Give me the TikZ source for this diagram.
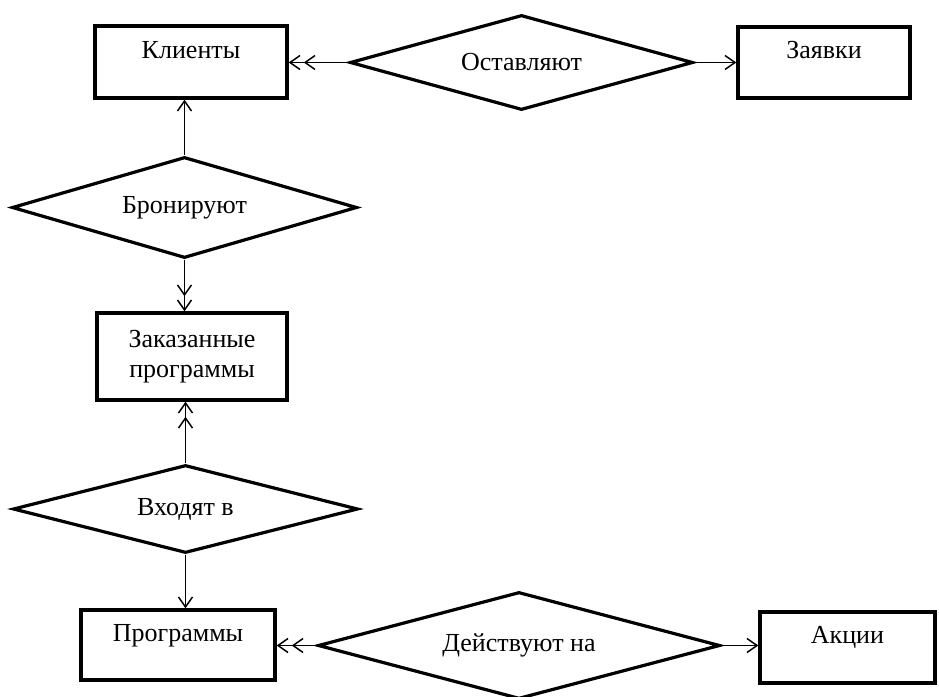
\documentclass[tikz,border=0pt]{standalone}
\usepackage{fontspec}
\setmainfont{Liberation Serif}
\usetikzlibrary{positioning,arrows.meta,shapes.geometric}
\tikzset{
  entity/.style={draw,line width=1.7pt,align=center,inner sep=2pt},
  toptext/.style={text height=10pt,text depth=14pt},
  rel/.style={draw,diamond,line width=1.6pt,aspect=4,inner sep=0pt},
  one/.style={-{Straight Barb[length=5pt,width=7pt]},line width=0.75pt},
  many/.style={-{Straight Barb[length=5pt,width=7pt,sep=1.5pt]Straight Barb[length=5pt,width=7pt]},line width=0.75pt}}

\begin{document}
\begin{tikzpicture}[x=1pt,y=1pt,font=\fontsize{13}{15}\selectfont]
  \useasboundingbox (0,0) rectangle (469.5,-348.5);
  \node[entity,toptext,minimum width=96pt,minimum height=36pt] (kl) at (95.5,-31) {Клиенты};
  \node[rel,minimum width=171.5pt,minimum height=47.5pt] (ost) at (260.75,-31.25) {Оставляют};
  \node[entity,toptext,minimum width=86pt,minimum height=35.5pt] (zay) at (412,-31.25) {Заявки};
  \node[rel,minimum width=172.5pt,minimum height=50.5pt] (bron) at (92.25,-103.75) {Бронируют};
  \node[entity,minimum width=95pt,minimum height=43.5pt] (zak) at (96,-178.25) {Заказанные\\программы};
  \node[rel,minimum width=172.5pt,minimum height=44pt] (vkh) at (92.75,-254.5) {Входят в};
  \node[entity,toptext,minimum width=97pt,minimum height=35pt] (prog) at (89,-322.5) {Программы};
  \node[rel,minimum width=201pt,minimum height=53.5pt] (deyst) at (259.5,-322.75) {Действуют на};
  \node[entity,toptext,minimum width=87.5pt,minimum height=35.5pt] (akc) at (423.75,-323.75) {Акции};
  \draw[many] (ost.west) -- (ost.west -| kl.east);
  \draw[one] (ost.east) -- (ost.east -| zay.west);
  \draw[one] (bron.north) -- (bron.north |- kl.south);
  \draw[many] (bron.south) -- (bron.south |- zak.north);
  \draw[many] (vkh.north) -- (vkh.north |- zak.south);
  \draw[one] (vkh.south) -- (vkh.south |- prog.north);
  \draw[many] (deyst.west) -- (deyst.west -| prog.east);
  \draw[one] (deyst.east) -- (deyst.east -| akc.west);
\end{tikzpicture}
\end{document}
